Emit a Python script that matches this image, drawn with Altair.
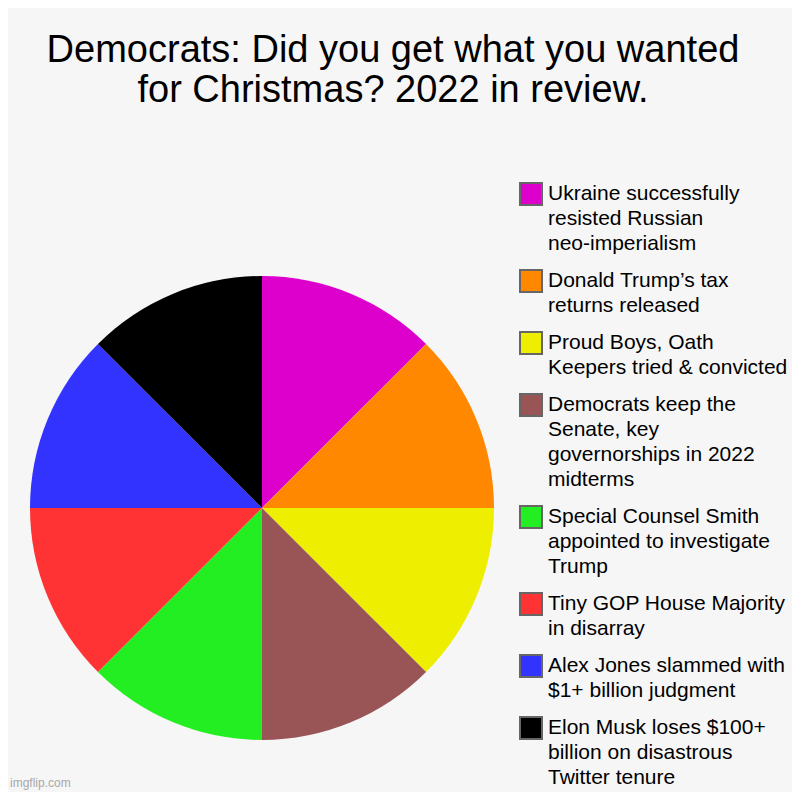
import altair as alt
import pandas as pd

categories = [
    "Ukraine successfully\nresisted Russian\nneo-imperialism",
    "Donald Trump\u2019s tax\nreturns released",
    "Proud Boys, Oath\nKeepers tried & convicted",
    "Democrats keep the\nSenate, key\ngovernorships in 2022\nmidterms",
    "Special Counsel Smith\nappointed to investigate\nTrump",
    "Tiny GOP House Majority\nin disarray",
    "Alex Jones slammed with\n$1+ billion judgment",
    "Elon Musk loses $100+\nbillion on disastrous\nTwitter tenure",
]
values = [1, 1, 1, 1, 1, 1, 1, 1]
colors = ["#dd00cc", "#ff8800", "#eeee00", "#995555",
          "#22ee22", "#ff3333", "#3333ff", "#000000"]
title_lines = ["Democrats: Did you get what you wanted",
               "for Christmas? 2022 in review."]
watermark = ["imgflip.com"]

df = pd.DataFrame({"category": categories, "value": values,
                   "idx": list(range(len(categories)))})

FONT = "Liberation Sans"

pie = alt.Chart(df).mark_arc(stroke=None).encode(
    theta=alt.Theta("value:Q", stack=True),
    order=alt.Order("idx:Q"),
    color=alt.Color(
        "category:N",
        scale=alt.Scale(domain=categories, range=colors),
        sort=categories,
        legend=alt.Legend(
            title=None,
            orient="none",
            legendX=489,
            legendY=-94,
            symbolType="square",
            symbolSize=484,
            symbolStrokeColor="#666666",
            symbolStrokeWidth=2,
            symbolOpacity=1,
            labelExpr="split(datum.label, '\\n')",
            labelFont=FONT,
            labelFontSize=21,
            labelColor="#000000",
            labelLimit=400,
            labelOffset=5,
            rowPadding=12,
        ),
    ),
)

wm = alt.Chart(pd.DataFrame({"t": watermark})).mark_text(
    font=FONT, fontSize=12, color="#a8a8a8", align="left", baseline="alphabetic"
).encode(x=alt.value(-20), y=alt.value(511), text="t:N")

chart = alt.layer(pie, wm).properties(
    width=464,
    height=464,
    padding={"left": 22, "top": 268, "right": 298, "bottom": 52},
    autosize=alt.AutoSizeParams(type="none"),
    background="#f6f6f6",
    title=alt.TitleParams(
        text=title_lines,
        font=FONT,
        fontSize=38,
        fontWeight="normal",
        lineHeight=40,
        color="#000000",
        anchor="middle",
        frame="group",
        dx=131,
        offset=72,
    ),
).configure(
    style={"guide-label": {"lineHeight": 25}}
).configure_view(stroke=None)

chart.save("out.html", embed_options={"renderer": "svg", "actions": False})
